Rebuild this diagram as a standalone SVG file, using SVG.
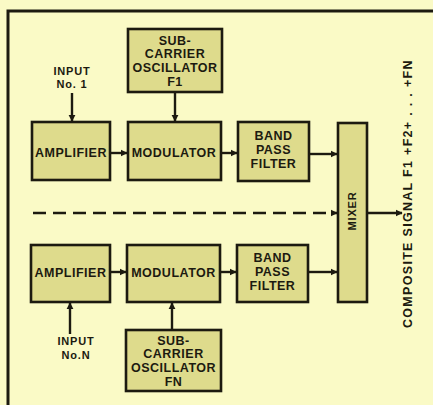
<svg xmlns="http://www.w3.org/2000/svg" width="433" height="405" viewBox="0 0 433 405">
<defs>
<marker id="ah" viewBox="0 0 10 10" refX="9" refY="5" markerWidth="3" markerHeight="3" orient="auto" markerUnits="strokeWidth">
<path d="M0,0 L10,5 L0,10 Z" fill="#1c1a10"/>
</marker>
</defs>
<style>
.box{fill:#dedb8c;stroke:#1c1a10;stroke-width:2.6}
.t{font-family:"Liberation Sans",Arial,sans-serif;font-weight:bold;font-size:12.5px;letter-spacing:0.5px;fill:#1c1a10;text-anchor:middle}
.s{font-size:11px;letter-spacing:0.8px}
.c{stroke:#1c1a10;stroke-width:2.4;fill:none;marker-end:url(#ah)}
.frame{stroke:#1c1a10;stroke-width:3;fill:none}
</style>
<rect x="0" y="0" width="433" height="405" fill="#fafac6"/>
<path class="frame" d="M8,405 L8,11 L433,11"/>

<g id="osc1">
<rect class="box" x="128" y="29" width="94" height="63"/>
<text class="t" x="175" y="45">SUB-</text>
<text class="t" x="175" y="58">CARRIER</text>
<text class="t" x="175" y="72">OSCILLATOR</text>
<text class="t" x="175" y="86">F1</text>
</g>
<g id="input1">
<text class="t s" x="72" y="75">INPUT</text>
<text class="t s" x="72" y="88">No. 1</text>
</g>
<g id="amp1">
<rect class="box" x="32" y="122" width="78" height="58"/>
<text class="t" x="71" y="157">AMPLIFIER</text>
</g>
<g id="mod1">
<rect class="box" x="128" y="122" width="93" height="58"/>
<text class="t" x="174" y="157">MODULATOR</text>
</g>
<g id="bpf1">
<rect class="box" x="238" y="122" width="71" height="59"/>
<text class="t" x="273.5" y="140">BAND</text>
<text class="t" x="273.5" y="154">PASS</text>
<text class="t" x="273.5" y="168">FILTER</text>
</g>
<g id="mixer">
<rect class="box" x="338" y="123" width="29" height="179"/>
<text class="t s" transform="translate(356,211) rotate(-90)">MIXER</text>
</g>
<g id="amp2">
<rect class="box" x="31" y="245" width="79" height="57"/>
<text class="t" x="70.5" y="277">AMPLIFIER</text>
</g>
<g id="mod2">
<rect class="box" x="127" y="245" width="93" height="57"/>
<text class="t" x="173.5" y="277">MODULATOR</text>
</g>
<g id="bpf2">
<rect class="box" x="237" y="245" width="71" height="57"/>
<text class="t" x="272.5" y="262">BAND</text>
<text class="t" x="272.5" y="276">PASS</text>
<text class="t" x="272.5" y="290">FILTER</text>
</g>
<g id="inputN">
<text class="t s" x="76" y="345">INPUT</text>
<text class="t s" x="76" y="359">No.N</text>
</g>
<g id="oscN">
<rect class="box" x="126" y="330" width="95" height="61"/>
<text class="t" x="173.5" y="345">SUB-</text>
<text class="t" x="173.5" y="358">CARRIER</text>
<text class="t" x="173.5" y="372">OSCILLATOR</text>
<text class="t" x="173.5" y="386">FN</text>
</g>
<g id="output">
<text class="t" transform="translate(412,194) rotate(-90)" textLength="268" lengthAdjust="spacing">COMPOSITE SIGNAL F1 +F2+ . . . +FN</text>
</g>

<g id="connectors">
<path class="c" d="M72,93 L72,121"/>
<path class="c" d="M175,92 L175,121"/>
<path class="c" d="M110,153 L127,153"/>
<path class="c" d="M221,153 L237,153"/>
<path class="c" d="M309,154 L337,154"/>
<path class="c" d="M33,213 L337,213" stroke-dasharray="13,7" stroke-width="3"/>
<path class="c" d="M367,213 L402,213"/>
<path class="c" d="M110,272 L126,272"/>
<path class="c" d="M220,272 L236,272"/>
<path class="c" d="M308,272 L337,272"/>
<path class="c" d="M70,334 L70,303"/>
<path class="c" d="M172,330 L172,303"/>
</g>
</svg>
